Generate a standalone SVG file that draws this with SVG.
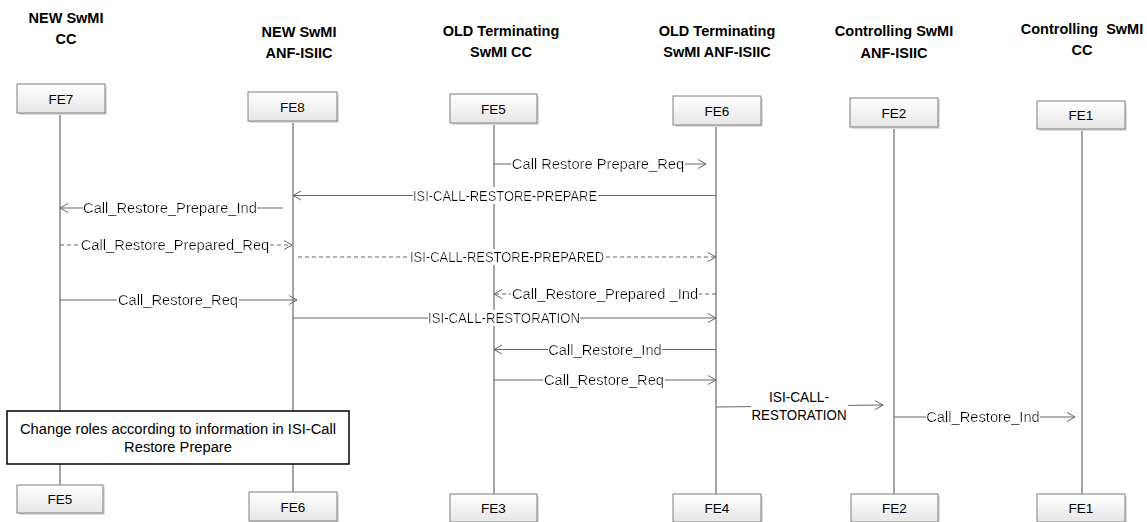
<svg xmlns="http://www.w3.org/2000/svg" width="1147" height="522" viewBox="0 0 1147 522">
<style>
text{font-family:"Liberation Sans",Arial,sans-serif;fill:#000}
.hd{font-size:14.5px;font-weight:bold;text-anchor:middle}
.bx{font-size:13.5px;text-anchor:middle}
.ms{font-size:14.7px;text-anchor:middle}
.mc{font-size:14.5px;text-anchor:middle}
.ll{stroke:#4a4a4a;stroke-width:1;fill:none}
.m{stroke:#666;stroke-width:1;fill:none;marker-end:url(#ah)}
.d{stroke-dasharray:4 3}
.box{fill:url(#g);stroke:#7f7f7f;stroke-width:1}
.sh{fill:#dcdcdc}
.lb{filter:url(#bg)}
</style>
<defs>
<linearGradient id="g" x1="0" y1="0" x2="0" y2="1">
<stop offset="0" stop-color="#ffffff"/>
<stop offset="1" stop-color="#e6e6e6"/>
</linearGradient>
<filter id="bg" x="0" y="0" width="1" height="1">
<feFlood flood-color="#ffffff"/>
<feComposite in="SourceGraphic"/>
</filter>
<marker id="ah" markerUnits="userSpaceOnUse" markerWidth="12" markerHeight="12" refX="9" refY="5" orient="auto">
<path d="M1,0.5 L9,5 L1,9.5" fill="none" stroke="#666" stroke-width="1"/>
</marker>
</defs>

<g id="headers">
<text class="hd" x="66" y="23">NEW SwMI</text>
<text class="hd" x="66" y="44">CC</text>
<text class="hd" x="299" y="37">NEW SwMI</text>
<text class="hd" x="299" y="58">ANF-ISIIC</text>
<text class="hd" x="501" y="36">OLD Terminating</text>
<text class="hd" x="501" y="57">SwMI CC</text>
<text class="hd" x="717" y="36">OLD Terminating</text>
<text class="hd" x="717" y="57">SwMI ANF-ISIIC</text>
<text class="hd" x="894" y="36">Controlling SwMI</text>
<text class="hd" x="894" y="58">ANF-ISIIC</text>
<text class="hd" x="1082" y="34" xml:space="preserve">Controlling  SwMI</text>
<text class="hd" x="1082" y="55">CC</text>
</g>

<g id="lifelines">
<line class="ll" x1="60" y1="113" x2="60" y2="411"/>
<line class="ll" x1="60" y1="464" x2="60" y2="485"/>
<line class="ll" x1="293" y1="121" x2="293" y2="411"/>
<line class="ll" x1="293" y1="464" x2="293" y2="492"/>
<line class="ll" x1="494" y1="123" x2="494" y2="494"/>
<line class="ll" x1="716" y1="125" x2="716" y2="494"/>
<line class="ll" x1="894" y1="127" x2="894" y2="494"/>
<line class="ll" x1="1082" y1="128" x2="1082" y2="494"/>
</g>

<g id="node-FE7-top"><rect class="sh" x="19" y="86" width="88" height="29"/><rect class="box" x="17" y="84" width="88" height="29"/><text class="bx" x="61" y="103.5">FE7</text></g>
<g id="node-FE8-top"><rect class="sh" x="250" y="94" width="89" height="29"/><rect class="box" x="248" y="92" width="89" height="29"/><text class="bx" x="292.5" y="111.5">FE8</text></g>
<g id="node-FE5-top"><rect class="sh" x="452" y="96" width="87" height="29"/><rect class="box" x="450" y="94" width="87" height="29"/><text class="bx" x="493.5" y="113.5">FE5</text></g>
<g id="node-FE6-top"><rect class="sh" x="675" y="98" width="88" height="29"/><rect class="box" x="673" y="96" width="88" height="29"/><text class="bx" x="717" y="115.5">FE6</text></g>
<g id="node-FE2-top"><rect class="sh" x="852" y="100" width="88" height="29"/><rect class="box" x="850" y="98" width="88" height="29"/><text class="bx" x="894" y="117.5">FE2</text></g>
<g id="node-FE1-top"><rect class="sh" x="1039" y="103" width="88" height="28"/><rect class="box" x="1037" y="101" width="88" height="28"/><text class="bx" x="1081" y="120">FE1</text></g>

<g id="connectors">
<line class="m" x1="494" y1="164" x2="706" y2="164"/>
<line class="m" x1="716" y1="195.5" x2="293" y2="195.5"/>
<line class="m" x1="283" y1="208" x2="60" y2="208"/>
<line class="m d" x1="60" y1="245" x2="292" y2="245"/>
<line class="m d" x1="298" y1="257" x2="716" y2="257"/>
<line class="m d" x1="716" y1="294" x2="494" y2="294"/>
<line class="m" x1="60" y1="300" x2="297" y2="300"/>
<line class="m" x1="293" y1="318" x2="716" y2="318"/>
<line class="m" x1="716" y1="349.5" x2="494" y2="349.5"/>
<line class="m" x1="494" y1="380" x2="716" y2="380"/>
<line class="m" x1="716" y1="407" x2="883" y2="405"/>
<line class="m" x1="894" y1="417" x2="1075" y2="417"/>
</g>

<g id="labels">
<text class="ms lb" x="598" y="169">Call Restore Prepare_Req</text>
<text class="mc lb" x="505" y="200.5" textLength="184" lengthAdjust="spacingAndGlyphs">ISI-CALL-RESTORE-PREPARE</text>
<text class="ms lb" x="170" y="213">Call_Restore_Prepare_Ind</text>
<text class="ms lb" x="175" y="250">Call_Restore_Prepared_Req</text>
<text class="mc lb" x="507" y="262" textLength="194" lengthAdjust="spacingAndGlyphs">ISI-CALL-RESTORE-PREPARED</text>
<text class="ms lb" x="605" y="299" xml:space="preserve">Call_Restore_Prepared _Ind</text>
<text class="ms lb" x="178" y="305">Call_Restore_Req</text>
<text class="mc lb" x="504" y="323" textLength="152" lengthAdjust="spacingAndGlyphs">ISI-CALL-RESTORATION</text>
<text class="ms lb" x="605" y="354.5">Call_Restore_Ind</text>
<text class="ms lb" x="604" y="385">Call_Restore_Req</text>
<rect x="751" y="390" width="97" height="34" fill="#fff"/>
<text class="mc" x="799" y="402" textLength="60" lengthAdjust="spacingAndGlyphs">ISI-CALL-</text>
<text class="mc" x="799" y="420" textLength="95" lengthAdjust="spacingAndGlyphs">RESTORATION</text>
<text class="ms lb" x="983" y="422">Call_Restore_Ind</text>
</g>

<g id="note">
<rect x="7" y="411" width="342" height="53" fill="#fff" stroke="#000" stroke-width="1.5"/>
<text class="ms" x="178" y="434">Change roles according to information in ISI-Call</text>
<text class="ms" x="178" y="452">Restore Prepare</text>
</g>

<g id="node-FE5-bottom"><rect class="sh" x="19" y="487" width="86" height="28"/><rect class="box" x="17" y="485" width="86" height="28"/><text class="bx" x="60" y="504">FE5</text></g>
<g id="node-FE6-bottom"><rect class="sh" x="251" y="494" width="88" height="29"/><rect class="box" x="249" y="492" width="88" height="29"/><text class="bx" x="293" y="511.5">FE6</text></g>
<g id="node-FE3-bottom"><rect class="sh" x="452" y="496" width="87" height="28"/><rect class="box" x="450" y="494" width="87" height="28"/><text class="bx" x="493.5" y="513">FE3</text></g>
<g id="node-FE4-bottom"><rect class="sh" x="675" y="496" width="88" height="28"/><rect class="box" x="673" y="494" width="88" height="28"/><text class="bx" x="717" y="513">FE4</text></g>
<g id="node-FE2-bottom"><rect class="sh" x="853" y="496" width="87" height="28"/><rect class="box" x="851" y="494" width="87" height="28"/><text class="bx" x="894.5" y="513">FE2</text></g>
<g id="node-FE1-bottom"><rect class="sh" x="1039" y="496" width="88" height="28"/><rect class="box" x="1037" y="494" width="88" height="28"/><text class="bx" x="1081" y="513">FE1</text></g>
</svg>
